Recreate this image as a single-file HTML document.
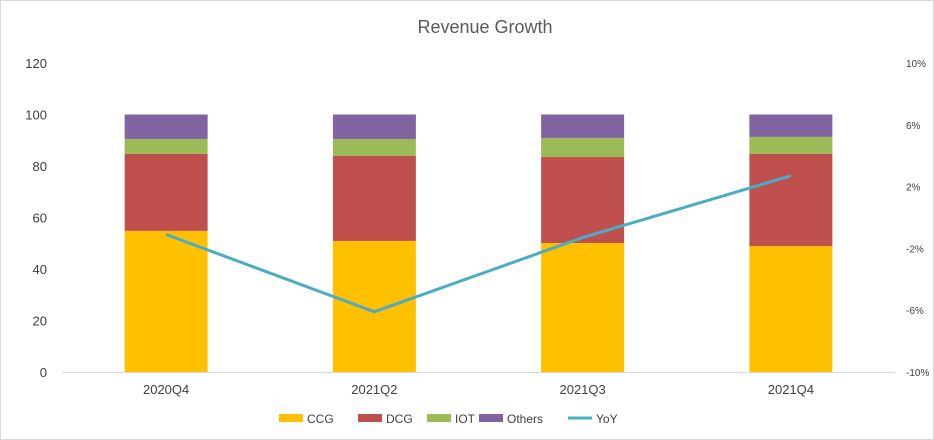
<!DOCTYPE html>
<html><head><meta charset="utf-8">
<style>
html,body{margin:0;padding:0;background:#fff;}
svg{display:block;font-family:"Liberation Sans",Arial,sans-serif;}
</style></head>
<body>
<svg id="chart" width="934" height="440" viewBox="0 0 934 440">
<rect x="0.5" y="0.5" width="933" height="439" fill="#fff" stroke="#d9d9d9"/>
<text x="485" y="33" text-anchor="middle" font-size="18" fill="#595959">Revenue Growth</text>
<g id="plot"></g>
</svg>
<script>
const categories=["2020Q4","2021Q2","2021Q3","2021Q4"];
const ccg=[54.8,50.9,50.1,48.9];
const dcg=[29.9,33.0,33.4,35.8];
const iot=[5.8,6.6,7.4,6.6];
const others=[9.5,9.5,9.1,8.7];
const yoy=[-1.1,-6.1,-1.3,2.7];
const leftTicks=[0,20,40,60,80,100,120];
const rightTicks=[-10,-6,-2,2,6,10];
const seriesNames=["CCG","DCG","IOT","Others"];
const colors=["#ffc000","#c0504d","#9bbb59","#8064a2"];
const lineColor="#4bacc6";

const NS="http://www.w3.org/2000/svg";
const g=document.getElementById('plot');
const x0=62,x1=895,yB=372,yT=63;
const yL=v=>yB-(v/120)*(yB-yT);
const yR=v=>yB-((v+10)/20)*(yB-yT);
const band=(x1-x0)/categories.length;
const xc=i=>x0+band*(i+0.5);
const bw=83;
function el(t,a){const e=document.createElementNS(NS,t);for(const k in a)e.setAttribute(k,a[k]);g.appendChild(e);return e;}

leftTicks.forEach(v=>{
  const t=el('text',{x:47,y:yL(v)+5,'text-anchor':'end','font-size':13,fill:'#404040'});
  t.textContent=v;
  
  
});
rightTicks.forEach(v=>{
  const t=el('text',{x:906,y:yR(v)+4,'text-anchor':'start','font-size':10,fill:'#404040'});
  t.textContent=v+'%';
  
  
});
const ax=el('line',{x1:x0,x2:x1,y1:yB+0.5,y2:yB+0.5,stroke:'#d9d9d9'});



const stacks=[ccg,dcg,iot,others];
categories.forEach((c,i)=>{
  let base=0;
  stacks.forEach((s,k)=>{
    const r=el('rect',{x:xc(i)-bw/2,y:yL(base+s[i]),width:bw,height:yL(base)-yL(base+s[i]),fill:colors[k]});
    
    
    base+=s[i];
  });
  const t=el('text',{x:xc(i),y:394,'text-anchor':'middle','font-size':13,fill:'#404040'});
  t.textContent=c;
  
  
});
const pl=el('polyline',{points:yoy.map((v,i)=>xc(i)+','+yR(v)).join(' '),fill:'none',stroke:lineColor,'stroke-width':3});



const leg=[...seriesNames.map((n,k)=>({n,c:colors[k],line:false})),{n:'YoY',c:lineColor,line:true}];
const lx=[279,358,427,479,568];
leg.forEach((l,k)=>{
  let m;
  if(l.line){m=el('line',{x1:lx[k],x2:lx[k]+24,y1:418,y2:418,stroke:l.c,'stroke-width':3});}
  else{m=el('rect',{x:lx[k],y:414,width:24,height:8,fill:l.c});}
  
  
  const t=el('text',{x:lx[k]+28,y:423,'font-size':12,fill:'#404040'});
  t.textContent=l.n;
  
  
});
</script>
</body></html>
